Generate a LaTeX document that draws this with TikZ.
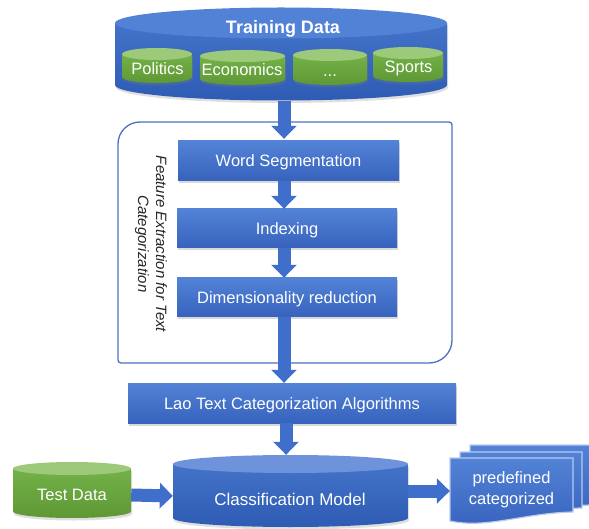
\documentclass[tikz,border=0pt]{standalone}
\usepackage{fontspec}
\setmainfont{Liberation Sans}
\usetikzlibrary{arrows.meta,shadows}

\definecolor{boxtop}{HTML}{5283D6}
\definecolor{boxbot}{HTML}{3762BD}
\definecolor{arrowblue}{HTML}{3F6ECB}
\definecolor{drumbodytop}{HTML}{4373C9}
\definecolor{drumbodybot}{HTML}{2E5BB3}
\definecolor{drumlid}{HTML}{5282D6}
\definecolor{modellid}{HTML}{6E93DA}
\definecolor{greentop}{HTML}{74B147}
\definecolor{greenbot}{HTML}{5E9836}
\definecolor{greenlid}{HTML}{9CC97A}
\definecolor{framecol}{HTML}{4B70BE}
\definecolor{docedge}{HTML}{B7CAEE}

\tikzset{
  stagebox/.style={rectangle, top color=boxtop, bottom color=boxbot, text=white,
    font=\fontsize{16.5}{19}\selectfont, text height=12pt, text depth=0pt, inner sep=0pt,
    drop shadow={opacity=.3, shadow xshift=1pt, shadow yshift=-2.5pt}},
  bluedrum/.style={top color=drumbodytop, bottom color=drumbodybot,
    drop shadow={opacity=.25, shadow xshift=1pt, shadow yshift=-2.5pt}},
  greendrum/.style={top color=greentop, bottom color=greenbot,
    drop shadow={opacity=.25, shadow xshift=1pt, shadow yshift=-2.5pt}},
  drumlabel/.style={text=white, font=\fontsize{16.5}{19}\selectfont, anchor=base, inner sep=0pt},
  flowarrow/.style={draw=arrowblue, line width=13pt, -{Triangle[width=25pt,length=13pt]}},
  pagestyle/.style={top color=boxtop, bottom color=boxbot, draw=docedge, line width=1.2pt},
}

% drum (cylinder): #1 name, #2 left x, #3 right x, #4 lid centre y, #5 base centre y,
% #6 vertical radius, #7 body style, #8 lid colour
\newcommand\drumshape[8]{%
  \pgfmathsetmacro\dsR{(#3-#2)/2}%
  \pgfmathsetmacro\dsC{(#2+#3)/2}%
  \path[#7] (#2,#4) -- (#2,#5) arc[start angle=180,end angle=360,x radius=\dsR pt,y radius=#6pt] -- (#3,#4) -- cycle;
  \fill[#8] (\dsC,#4) ellipse[x radius=\dsR pt,y radius=#6pt];
  \node[inner sep=0pt, minimum width={(#3-#2)*1pt}, minimum height={(#5-#4+2*#6)*1pt}] (#1) at (\dsC,{(#4+#5)/2}) {};
}

% page with a wavy lower edge: #1 left x, #2 right x, #3 top y, #4 lower-left y
\newcommand\pageshape[4]{%
  \path[pagestyle] (#1,#3) -- (#2,#3) -- (#2,{#4-9})
    .. controls ({#1+0.6*(#2-#1)},{#4-8}) and ({#1+0.3*(#2-#1)},{#4+8}) .. (#1,#4) -- cycle;
}

\begin{document}
\begin{tikzpicture}[x=1pt,y=-1pt]
\useasboundingbox (0,0) rectangle (589,529);

% feature extraction frame
\draw[framecol, line width=1.3pt] (118,144) arc[start angle=180,end angle=90,radius=22pt]
  -- (449,122) arc[start angle=90,end angle=0,radius=3pt]
  -- (452,340) arc[start angle=0,end angle=-90,radius=23pt]
  -- (121,363) arc[start angle=270,end angle=180,radius=3pt] -- cycle;
\node[rotate=-90, align=center, inner sep=0pt, text=black!85,
  font=\itshape\fontsize{15}{18}\selectfont] (fecap) at (151,244)
  {Feature Extraction for Text\\Categorization};

% training data store with its categories
\drumshape{train}{115}{447}{23}{85}{15.5}{bluedrum}{drumlid}
\node[drumlabel, font=\bfseries\fontsize{18}{21}\selectfont] (traintxt) at (283,33.5) {Training Data};
\drumshape{pol}{122}{192}{54}{77}{6}{greendrum}{greenlid}
\drumshape{eco}{200}{285}{56}{79}{6}{greendrum}{greenlid}
\drumshape{more}{293}{367}{55}{79}{6}{greendrum}{greenlid}
\drumshape{spo}{373}{443}{53}{76}{6}{greendrum}{greenlid}
\node[drumlabel] (poltxt) at (157.5,75) {Politics};
\node[drumlabel] (ecotxt) at (242,76) {Economics};
\node[drumlabel] (moretxt) at (330,77) {...};
\node[drumlabel] (spotxt) at (408.5,73) {Sports};

% processing stages
\node[stagebox, minimum width=221pt, minimum height=40pt] (seg) at (288.5,161) {Word Segmentation};
\node[stagebox, minimum width=220pt, minimum height=39pt] (idx) at (287,228.5) {Indexing};
\node[stagebox, minimum width=220pt, minimum height=39pt] (dim) at (287,297.5) {Dimensionality reduction};
\node[stagebox, minimum width=328pt, minimum height=40pt] (lao) at (292,403) {Lao Text Categorization Algorithms};

% test data and model
\drumshape{test}{13}{131}{468.5}{511.5}{6.5}{greendrum}{greenlid}
\node[drumlabel] (testtxt) at (72,500) {Test Data};
\drumshape{class}{173}{408}{464}{518}{9}{bluedrum}{modellid}
\node[drumlabel, font=\fontsize{17}{20}\selectfont] (classtxt) at (290,505) {Classification Model};

% stack of output pages
\pageshape{470}{591}{445}{514}
\pageshape{460}{582}{452}{517}
\pageshape{450}{573}{458}{521}
\node[text=white, font=\fontsize{16.5}{21}\selectfont, align=center, inner sep=0pt,
  minimum width=123pt, minimum height=63pt] (docs) at (511.5,489.5) {predefined\\categorized};

% connectors
\coordinate (ax) at (284,0);
\coordinate (bx) at (286,0);
\draw[flowarrow, shorten >=2pt] (train.south -| ax) -- (seg.north -| ax);
\draw[flowarrow] (seg.south -| ax) -- (idx.north -| ax);
\draw[flowarrow] (idx.south -| ax) -- (dim.north -| ax);
\draw[flowarrow] (dim.south -| ax) -- (lao.north -| ax);
\draw[flowarrow] (lao.south -| bx) -- (class.north -| bx);
\draw[flowarrow] ([yshift=-5pt]test.east) -- ([yshift=-5pt]class.west);
\draw[flowarrow] (class.east) -- (class.east -| docs.west);
\end{tikzpicture}
\end{document}
